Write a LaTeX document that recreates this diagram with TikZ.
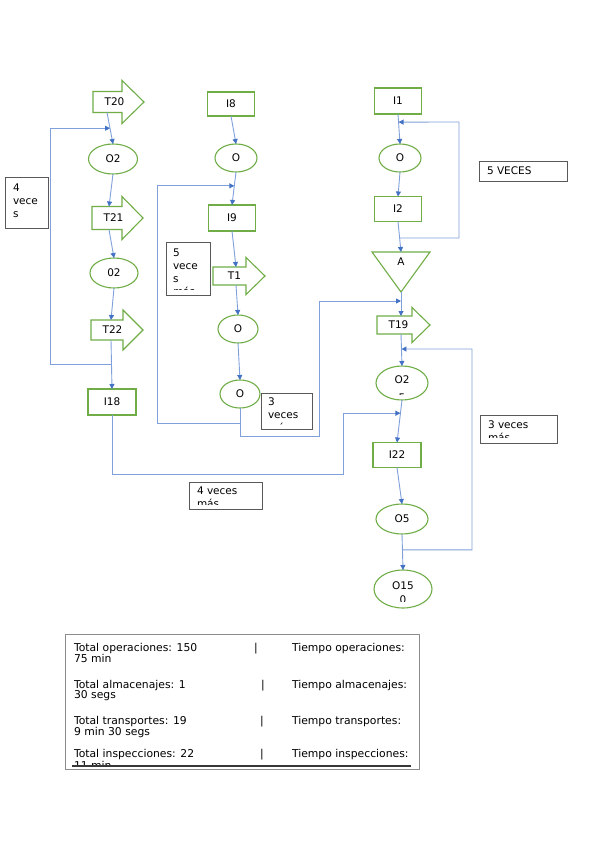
\documentclass[tikz,border=0pt]{standalone}
\usepackage{fontspec}
\setmainfont{DejaVu Sans}
\usetikzlibrary{shapes.geometric,arrows.meta,calc}
\definecolor{ogreen}{RGB}{112,173,71}
\definecolor{lblue}{RGB}{128,160,220}
\definecolor{ablue}{RGB}{68,114,196}
\definecolor{bxgray}{RGB}{89,89,89}
\definecolor{tgray}{RGB}{140,140,140}
\definecolor{dline}{RGB}{55,55,55}
\tikzset{
  every node/.style={font=\fontsize{10.5}{13}\selectfont, inner sep=0pt, outer sep=0pt},
  tshape/.style={draw=ogreen, line width=1.1pt, line join=miter},
  opell/.style={draw=ogreen, line width=1.1pt, ellipse},
  inspbox/.style={draw=ogreen, line width=1.1pt, rectangle},
  conn/.style={draw=lblue, line width=0.9pt, -{Triangle[length=5pt,width=5pt,color=ablue]}},
  notebox/.style={draw=bxgray, line width=0.9pt, rectangle, anchor=north west},
  notetext/.style={anchor=north west, align=left, font=\fontsize{10.5}{13}\selectfont},
  tabtext/.style={anchor=base west, font=\fontsize{10.8}{13}\selectfont},
}
% name, left x, centre y, label, body width, body half height, head half height, head length, connection x offset
\newcommand\tarr[9]{%
  \draw[tshape] (#2,#3-#6) -- (#2+#5,#3-#6) -- (#2+#5,#3-#7) -- (#2+#5+#8,#3)
     -- (#2+#5,#3+#7) -- (#2+#5,#3+#6) -- (#2,#3+#6) -- cycle;
  \node (#1l) at (#2+21.5,#3) {#4};
  \node[minimum width=2pt, minimum height={2*#6pt}] (#1) at (#2+#9,#3) {};}
\begin{document}
\begin{tikzpicture}[x=1pt,y=-1pt]
\useasboundingbox (0,0) rectangle (599,848);
\fill[white] (0,0) rectangle (599,848);

% ---------- left column ----------
\tarr{t20}{93}{102}{T20}{29}{10.5}{21.5}{22}{14}
\node[opell, minimum width=49pt, minimum height=30pt] (o2a) at (113,159) {O2};
\tarr{t21}{92}{218}{T21}{30}{11.5}{21.5}{21}{17}
\node[opell, minimum width=48pt, minimum height=30pt] (o02) at (114,273) {02};
\tarr{t22}{91}{330}{T22}{32}{10}{20}{20}{20}
\node[inspbox, minimum width=48pt, minimum height=26pt] (i18) at (112,402) {I18};

% ---------- middle column ----------
\node[inspbox, minimum width=47pt, minimum height=24pt] (i8) at (231,104) {I8};
\node[opell, minimum width=42pt, minimum height=28pt] (om1) at (236,158) {O};
\node[inspbox, minimum width=47pt, minimum height=26pt] (i9) at (232,218) {I9};
\tarr{t1}{213}{276}{T1}{33}{9}{18.5}{19}{23}
\node[opell, minimum width=40pt, minimum height=28pt] (om2) at (238,329) {O};
\node[opell, minimum width=40pt, minimum height=28pt] (om3) at (240,394) {O};

% ---------- right column ----------
\node[inspbox, minimum width=47pt, minimum height=26pt] (i1) at (398,101) {I1};
\node[opell, minimum width=42pt, minimum height=28pt] (or1) at (400,158) {O};
\node[inspbox, minimum width=47pt, minimum height=25pt] (i2) at (398,209) {I2};
\draw[tshape] (372,252) -- (430,252) -- (401,292) -- cycle;
\node[minimum width=10pt, minimum height=40pt] (ta) at (401,272) {};
\node (talbl) at (401,262) {A};
\tarr{t19}{377}{325}{T19}{35}{9}{17.5}{18}{24}
\node[opell, minimum width=52pt, minimum height=34pt] (or2) at (402,383) {};
\node (or2t) at (402,380) {O2};
\begin{scope}
  \clip (380,389) rectangle (424,394.5);
  \node (or2x) at (402,398) {5};
\end{scope}
\node[inspbox, minimum width=48pt, minimum height=25pt] (i22) at (397,455) {I22};
\node[opell, minimum width=52pt, minimum height=30pt] (o5) at (402,519) {O5};
\node[opell, minimum width=58pt, minimum height=38pt] (o15) at (403,589) {};
\node (o15t) at (403,586) {O15};
\begin{scope}
  \clip (380,594) rectangle (426,601);
  \node (o15x) at (403,600) {0};
\end{scope}

% ---------- connectors ----------
\draw[conn] (t20.south) -- (o2a.north);
\draw[conn] (o2a.south) -- (t21.north);
\draw[conn] (t21.south) -- (o02.north);
\draw[conn] (o02.south) -- (t22.north);
\draw[conn] (t22.south) -- (i18.north);
\coordinate (l1) at ($(t20.south)!0.5!(o2a.north)$);
\coordinate (c22) at ($(t22.south)!0.49!(i18.north)$);
\coordinate (lx) at (50,0);
\draw[conn] (c22) -- (c22 -| lx) |- (l1);

\draw[conn] (i8.south) -- (om1.north);
\draw[conn] (om1.south) -- (i9.north);
\draw[conn] (i9.south) -- (t1.north);
\draw[conn] (t1.south) -- (om2.north);
\draw[conn] (om2.south) -- (om3.north);
\coordinate (m1) at ($(om1.south)!0.42!(i9.north)$);
\coordinate (mlx) at (157,423);
\draw[conn] (om3.south) |- (mlx) |- (m1);

\draw[conn] (i1.south) -- (or1.north);
\draw[conn] (or1.south) -- (i2.north);
\draw[conn] (i2.south) -- (ta.north);
\draw[conn] (ta.south) -- (t19.north);
\draw[conn] (t19.south) -- (or2.north);
\draw[conn] (or2.south) -- (i22.north);
\draw[conn] (i22.south) -- (o5.north);
\draw[conn] (o5.south) -- (o15.north);

\coordinate (m2) at ($(ta.south)!0.375!(t19.north)$);
\coordinate (mrx) at (319,436);
\draw[conn] (om3.south) |- (mrx) |- (m2);

\coordinate (r1) at ($(i2.south)!0.54!(ta.north)$);
\coordinate (r2) at ($(i1.south)!0.27!(or1.north)$);
\coordinate (rtx) at (459,122);
\draw[conn] (r1) -| (rtx) -- (r2);

\coordinate (r3) at ($(o5.south)!0.44!(o15.north)$);
\coordinate (r4) at ($(t19.south)!0.47!(or2.north)$);
\coordinate (rbx) at (472,349);
\draw[conn] (r3) -| (rbx) -- (r4);

\coordinate (r5) at ($(or2.south)!0.31!(i22.north)$);
\coordinate (bx1) at (343,474);
\draw[conn] (i18.south) |- (bx1) |- (r5);

% ---------- notes ----------
\node[notebox, minimum width=43pt, minimum height=51pt] (n4) at (5,177) {};
\node[notetext] (n4t) at (13,184) {4\\vece\\s};

\node[notebox, minimum width=44pt, minimum height=53pt] (n5) at (166,242) {};
\begin{scope}
  \clip (166,242) rectangle (210,289);
  \node[notetext] (n5t) at (173,249) {5\\vece\\s\\más};
\end{scope}

\node[notebox, minimum width=51pt, minimum height=36pt] (n3) at (261,393) {};
\begin{scope}
  \clip (261,393) rectangle (312,424.5);
  \node[notetext] (n3t) at (268,398) {3\\veces\\más};
\end{scope}

\node[notebox, minimum width=88pt, minimum height=20pt] (nv) at (479,161) {};
\node[anchor=west] (nvt) at (487,171) {5 VECES};

\node[notebox, minimum width=77pt, minimum height=28pt] (n3r) at (480,415) {};
\begin{scope}
  \clip (480,415) rectangle (557,437.5);
  \node[notetext] (n3rt) at (488,421) {3 veces\\más};
\end{scope}

\node[notebox, minimum width=73pt, minimum height=27pt] (n4b) at (189,482) {};
\begin{scope}
  \clip (189,482) rectangle (262,504);
  \node[notetext] (n4bt) at (197,487) {4 veces\\más};
\end{scope}

% ---------- summary table ----------
\node[draw=tgray, line width=1pt, rectangle, anchor=north west,
      minimum width=354pt, minimum height=135pt] (tab) at (65,634) {};
\begin{scope}
  \clip (65,634) rectangle (419,764.5);
  \node[tabtext] (a1) at (74,651) {Total operaciones: 150};
  \node[tabtext] (a2) at (254,651) {|};
  \node[tabtext] (a3) at (292,651) {Tiempo operaciones:};
  \node[tabtext] (a4) at (74,662) {75 min};
  \node[tabtext] (b1) at (74,688) {Total almacenajes: 1};
  \node[tabtext] (b2) at (261,688) {|};
  \node[tabtext] (b3) at (292,688) {Tiempo almacenajes:};
  \node[tabtext] (b4) at (74,698) {30 segs};
  \node[tabtext] (c1) at (74,724) {Total transportes: 19};
  \node[tabtext] (c2) at (260,724) {|};
  \node[tabtext] (c3) at (292,724) {Tiempo transportes:};
  \node[tabtext] (c4) at (74,735) {9 min 30 segs};
  \node[tabtext] (d1) at (74,757) {Total inspecciones: 22};
  \node[tabtext] (d2) at (260,757) {|};
  \node[tabtext] (d3) at (292,757) {Tiempo inspecciones:};
  \node[tabtext] (d4) at (74,769) {11 min};
\end{scope}
\coordinate (tl1) at (72,765.5);
\coordinate (tl2) at (411,765.5);
\draw[dline, line width=2pt] (tl1) -- (tl2);
\end{tikzpicture}
\end{document}
